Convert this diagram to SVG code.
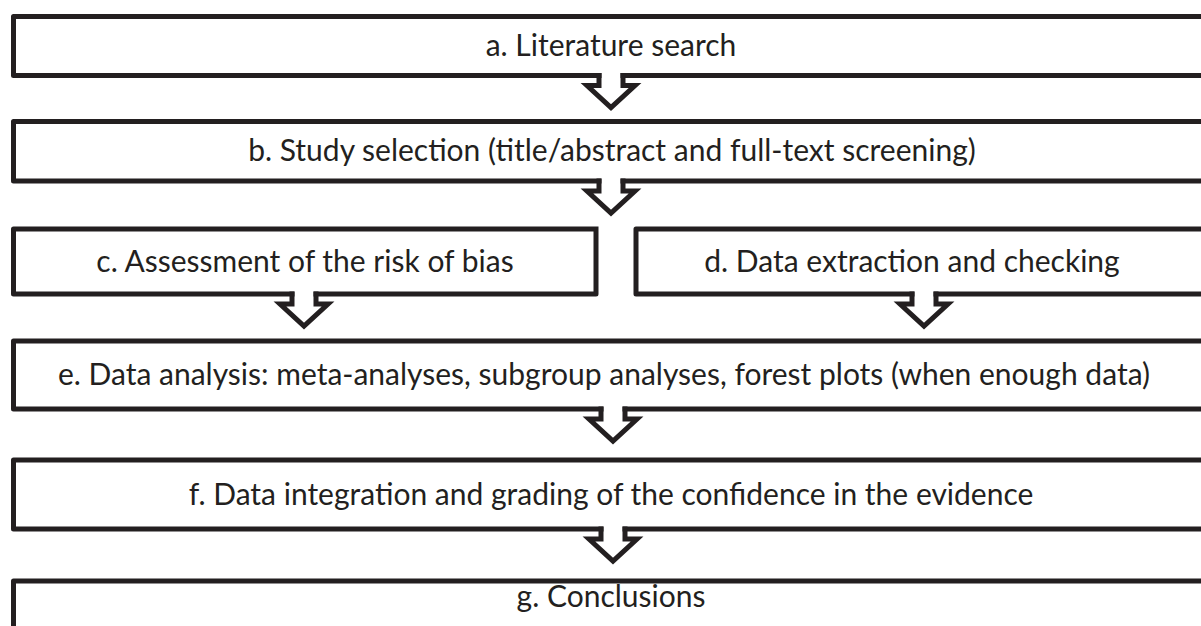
<svg xmlns="http://www.w3.org/2000/svg" width="1201" height="626" viewBox="0 0 1201 626">
  <style>
    .box { fill: none; stroke: #231f20; stroke-width: 5; stroke-linejoin: round; stroke-linecap: square; }
    .arr { fill: none; stroke: #231f20; stroke-width: 5; stroke-linejoin: miter; stroke-linecap: square; }
    .lbl { font-family: Lato, "Open Sans", "Liberation Sans", sans-serif; font-size: 30px; fill: #231f20; text-anchor: middle; }
  </style>
  <rect width="1201" height="626" fill="#ffffff"/>
  <g id="node-a">
    <path class="box" d="M1205,16.5 H13.5 V75.5 H599 M623,75.5 H1205"/>
    <text class="lbl" x="611" y="56">a. Literature search</text>
  </g>
  <g id="node-b">
    <path class="box" d="M1205,121.5 H13.5 V181 H599 M623,181 H1205"/>
    <text class="lbl" x="612" y="161">b. Study selection (title/abstract and full-text screening)</text>
  </g>
  <g id="node-c">
    <path class="box" d="M596,229 H13.5 V294 H292 M316,294 H596 V229"/>
    <text class="lbl" x="305" y="272">c. Assessment of the risk of bias</text>
  </g>
  <g id="node-d">
    <path class="box" d="M1205,229 H636 V294 H912 M936,294 H1205"/>
    <text class="lbl" x="912" y="272">d. Data extraction and checking</text>
  </g>
  <g id="node-e">
    <path class="box" d="M1205,341 H13.5 V409 H601 M625,409 H1205"/>
    <text class="lbl" x="604" y="385">e. Data analysis: meta-analyses, subgroup analyses, forest plots (when enough data)</text>
  </g>
  <g id="node-f">
    <path class="box" d="M1205,460 H13.5 V529 H601 M625,529 H1205"/>
    <text class="lbl" x="611" y="505">f. Data integration and grading of the confidence in the evidence</text>
  </g>
  <g id="node-g">
    <path class="box" d="M1205,581 H13.5 V640"/>
    <text class="lbl" x="611" y="607">g. Conclusions</text>
  </g>
  <g id="connectors">
    <path class="arr" d="M599,75.5 V85.5 H587 L611,107.5 L635,85.5 H623 V75.5"/>
    <path class="arr" d="M599,181 V191 H587 L611,213 L635,191 H623 V181"/>
    <path class="arr" d="M292,294 V304 H280 L304,326 L328,304 H316 V294"/>
    <path class="arr" d="M912,294 V304 H900 L924,326 L948,304 H936 V294"/>
    <path class="arr" d="M601,409 V419 H589 L613,441 L637,419 H625 V409"/>
    <path class="arr" d="M601,529 V539 H589 L613,561 L637,539 H625 V529"/>
  </g>
</svg>
